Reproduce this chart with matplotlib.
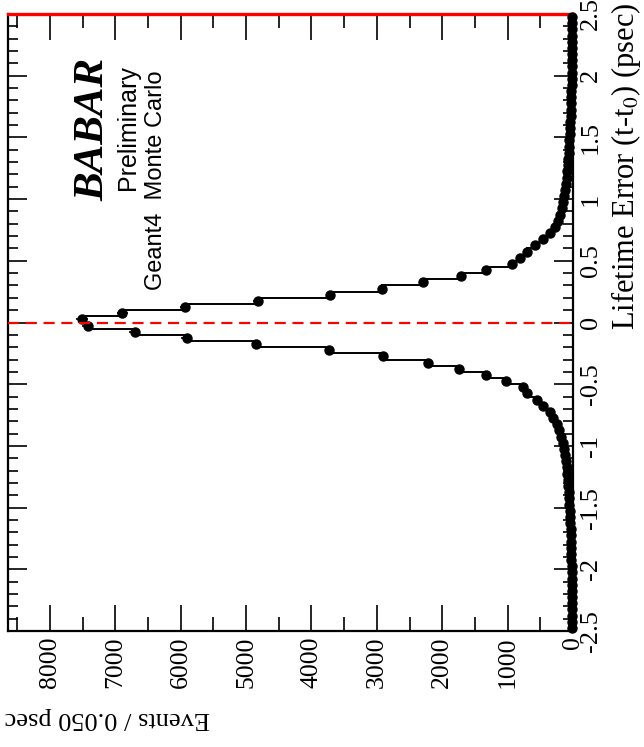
import numpy as np
import matplotlib.pyplot as plt
from matplotlib.ticker import MultipleLocator

# Lifetime error histogram, 0.050 psec bins, drawn turned on its side
# counts per bin going outward from t-t0 = 0
counts_pos = [7510, 6890, 5930, 4820, 3720, 2920, 2300, 1720, 1335, 940,
              810, 710, 580, 455, 355, 280, 230, 195, 170, 150,
              135, 120, 108, 97, 88, 80, 73, 66, 60, 55,
              50, 45, 41, 37, 33, 30, 27, 24, 22, 20,
              18, 16, 15, 14, 13, 12, 11, 10, 9, 9]
counts_neg = [7420, 6700, 5910, 4840, 3730, 2910, 2210, 1745, 1335, 1025,
              770, 705, 555, 455, 355, 300, 250, 210, 178, 155,
              136, 121, 109, 98, 89, 81, 74, 67, 61, 56,
              51, 46, 42, 38, 34, 31, 28, 25, 23, 21,
              19, 17, 15, 14, 13, 12, 11, 10, 10, 9]

edges = np.linspace(-2.5, 2.5, 101)
centers = 0.5 * (edges[:-1] + edges[1:])
counts = np.array(counts_neg[::-1] + counts_pos, dtype=float)

plt.rcParams['mathtext.fontset'] = 'stix'
serif = 'Liberation Serif'
sans = 'Liberation Sans'

fig = plt.figure(figsize=(6.44, 7.47), dpi=100)
ax = fig.add_axes([8.3 / 644, 1 - 631 / 747, (573 - 8.3) / 644, (631 - 14) / 747])

ax.stairs(counts, edges, orientation='horizontal', baseline=None, color='black', lw=1.4)
ax.errorbar(counts, centers, xerr=np.sqrt(counts), fmt='o', color='black',
            ms=6.5, elinewidth=1.2, capsize=0, clip_on=False, zorder=3)

ax.axhline(0, color='red', ls=(0, (5, 3)), lw=1.6, zorder=4)

ax.set_xlim(8635, 0)
ax.set_ylim(-2.5, 2.5)

ax.xaxis.set_major_locator(MultipleLocator(1000))
ax.xaxis.set_minor_locator(MultipleLocator(500))
ax.yaxis.set_major_locator(MultipleLocator(0.5))
ax.yaxis.set_minor_locator(MultipleLocator(0.1))
ax.tick_params(which='both', direction='in', top=True, bottom=True, left=True, right=True,
               labelleft=False, labelright=True, width=1.2, color='black')
ax.tick_params(which='major', length=14)
ax.tick_params(which='minor', length=7)
ax.tick_params(axis='x', which='major', length=19)
ax.tick_params(axis='x', which='minor', length=10)

ax.set_xticks(np.arange(0, 8001, 1000))
ax.set_xticklabels([str(v) for v in range(0, 8001, 1000)], rotation=90,
                   fontfamily=serif, fontsize=18.5)
yt = np.arange(-2.5, 2.51, 0.5)
ax.set_yticks(yt)
ax.set_yticklabels(['%g' % round(v, 1) for v in yt], rotation=90, va='center',
                   fontfamily=serif, fontsize=19)
ax.tick_params(axis='x', pad=4)
ax.tick_params(axis='y', pad=5)

for s in ax.spines.values():
    s.set_linewidth(1.6)
ax.spines['top'].set_color('red')
ax.spines['top'].set_linewidth(2.4)

fig.text(5 / 644, 1 - 718 / 747, 'Events / 0.050 psec', rotation=180, ha='left', va='center',
         fontfamily=serif, fontsize=19)
fig.text(626 / 644, 1 - 3 / 747, 'Lifetime Error (t-t$_0$) (psec)', rotation=90,
         ha='center', va='top', fontfamily=serif, fontsize=22)

fig.text(93 / 644, 1 - 58 / 747, 'BABAR', rotation=90, ha='center', va='top',
         fontfamily=serif, fontstyle='italic', fontweight='bold', fontsize=31)
fig.text(128.5 / 644, 1 - 65 / 747, 'Preliminary', rotation=90, ha='center', va='top',
         fontfamily=sans, fontsize=18)
fig.text(156 / 644, 1 - 70 / 747, 'Geant4  Monte Carlo', rotation=90, ha='center', va='top',
         fontfamily=sans, fontsize=17)

fig.savefig('out.png', dpi=100)
